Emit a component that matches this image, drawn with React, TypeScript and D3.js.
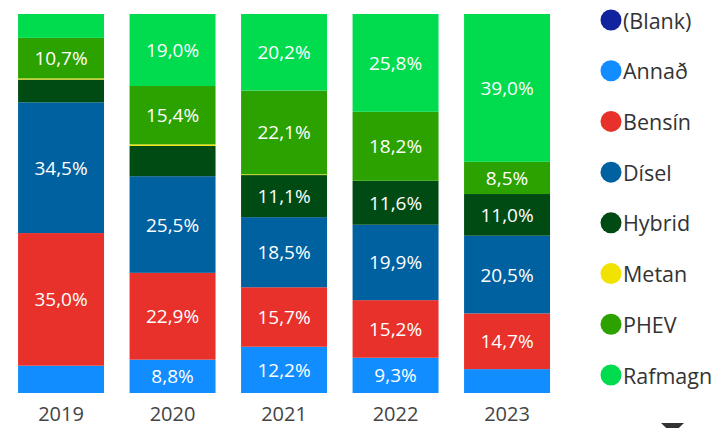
import React from "react";
import * as d3 from "d3";

// years on the x axis
const years = ["2019", "2020", "2021", "2022", "2023"];

// share (%) per fuel type, one value per year
const blank = [0, 0, 0, 0, 0];
const annad = [7.2, 8.8, 12.2, 9.3, 6.3];
const bensin = [35.0, 22.9, 15.7, 15.2, 14.7];
const disel = [34.5, 25.5, 18.5, 19.9, 20.5];
const hybrid = [6.0, 8.0, 11.1, 11.6, 11.0];
const metan = [0.3, 0.4, 0.2, 0, 0];
const phev = [10.7, 15.4, 22.1, 18.2, 8.5];
const rafmagn = [6.3, 19.0, 20.2, 25.8, 39.0];

const seriesNames = ["(Blank)", "Annað", "Bensín", "Dísel", "Hybrid", "Metan", "PHEV", "Rafmagn"];
const seriesValues = [blank, annad, bensin, disel, hybrid, metan, phev, rafmagn];
const seriesColors = ["#12239E", "#118DFF", "#E8312A", "#0061A0", "#004B14", "#F2E200", "#2BA200", "#00DC4E"];

const W = 723;
const H = 428;
const FONT = "'Open Sans', 'Noto Sans', sans-serif";

export default function App() {
  // rows for d3.stack
  const rows = years.map((y, i) => {
    const row: any = { year: y };
    seriesNames.forEach((s, j) => (row[s] = seriesValues[j][i]));
    return row;
  });
  const stacked = d3.stack().keys(seriesNames)(rows);

  const x = d3.scaleBand().domain(years).range([5.3, 562.8]).paddingInner(0.229).paddingOuter(0.1145);
  const y = d3.scaleLinear().domain([0, 100]).range([393, 14]);
  const color = d3.scaleOrdinal<string, string>().domain(seriesNames).range(seriesColors);
  const legendY = d3.scalePoint().domain(seriesNames).range([20, 375]);

  const fmt = (v: number) => d3.format(".1f")(v).replace(".", ",") + "%";

  return (
    <svg
      width={W}
      height={H}
      style={{ position: "absolute", left: 0, top: 0, background: "#fff" }}
      fontFamily={FONT}
    >
      {stacked.map((layer) => (
        <g key={layer.key} fill={color(layer.key)}>
          {layer.map((d, i) => {
            const h = y(d[0]) - y(d[1]);
            if (h <= 0) return null;
            return (
              <rect
                key={i}
                x={x(years[i])}
                y={y(d[1])}
                width={x.bandwidth()}
                height={h}
              />
            );
          })}
        </g>
      ))}

      {stacked.map((layer) => (
        <g key={"l" + layer.key}>
          {layer.map((d, i) => {
            const v = d[1] - d[0];
            if (v < 8.3) return null;
            return (
              <text
                key={i}
                x={(x(years[i]) as number) + x.bandwidth() / 2}
                y={(y(d[0]) + y(d[1])) / 2}
                textAnchor="middle"
                dominantBaseline="central"
                fill="#fff"
                fontSize={19}
              >
                {fmt(v)}
              </text>
            );
          })}
        </g>
      ))}

      {years.map((yr) => (
        <text
          key={yr}
          x={(x(yr) as number) + x.bandwidth() / 2}
          y={421}
          textAnchor="middle"
          fill="#444"
          fontSize={20}
        >
          {yr}
        </text>
      ))}

      {seriesNames.map((s) => (
        <g key={s} transform={`translate(611,${legendY(s)})`}>
          <circle r={10.5} fill={color(s)} />
          <text x={12} dominantBaseline="central" fill="#333" fontSize={21.5}>
            {s}
          </text>
        </g>
      ))}

      <path d="M661,423 L684,423 L672.5,434 Z" fill="#333" />
    </svg>
  );
}
